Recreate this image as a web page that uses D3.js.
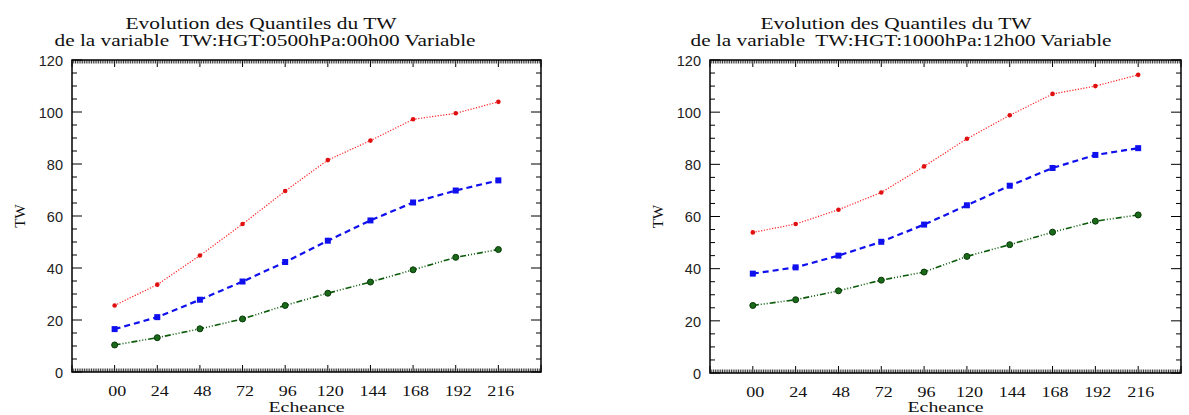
<!DOCTYPE html>
<html><head><meta charset="utf-8">
<script src="https://cdn.jsdelivr.net/npm/d3@7/dist/d3.min.js"></script>
<style>
body{margin:0;background:#fff;}
svg{display:block;}
text{white-space:pre;}
</style></head>
<body>
<svg id="chart" width="1189" height="415"></svg>
<script>
// ---- data ----
const echeances = [0, 24, 48, 72, 96, 120, 144, 168, 192, 216];
const xTickLabels = ["00","24","48","72","96","120","144","168","192","216"];
const yTicks = [0, 20, 40, 60, 80, 100, 120];
const titleLine1 = "Evolution des Quantiles du TW";
const titleLeft2 = "de la variable  TW:HGT:0500hPa:00h00 Variable";
const titleRight2 = "de la variable  TW:HGT:1000hPa:12h00 Variable";
const xLabel = "Echeance";
const yLabel = "TW";

const leftRed   = [25.6, 33.6, 44.8, 56.9, 69.6, 81.5, 89.0, 97.2, 99.5, 103.9];
const leftBlue  = [16.5, 21.1, 27.8, 34.8, 42.3, 50.5, 58.3, 65.2, 69.8, 73.7];
const leftGreen = [10.4, 13.2, 16.6, 20.4, 25.6, 30.3, 34.6, 39.3, 44.1, 47.1];

const rightRed   = [53.9, 57.1, 62.6, 69.2, 79.2, 89.8, 98.8, 107.0, 110.0, 114.3];
const rightBlue  = [38.1, 40.5, 45.0, 50.3, 56.9, 64.3, 71.8, 78.6, 83.6, 86.2];
const rightGreen = [25.9, 28.1, 31.5, 35.6, 38.7, 44.7, 49.2, 54.0, 58.2, 60.6];

// ---- layout ----
const panels = [
  {x0:72, x1:541, y0:60, y1:372, t1x:261, t2x:265, ylx:20, title2:titleLeft2,
   red:leftRed, blue:leftBlue, green:leftGreen},
  {x0:710, x1:1181, y0:60, y1:373, t1x:896, t2x:901, ylx:658, title2:titleRight2,
   red:rightRed, blue:rightBlue, green:rightGreen}
];

const svg = d3.select("#chart");
const serifFont = "'Liberation Serif', 'DejaVu Serif', serif";
const sansFont = "'Liberation Sans', Arial, sans-serif";

panels.forEach(p => {
  const x = d3.scaleLinear().domain([-24, 240]).range([p.x0, p.x1]);
  const y = d3.scaleLinear().domain([0, 120]).range([p.y1, p.y0]);
  const g = svg.append("g");

  // titles
  g.append("text").attr("x", p.t1x).attr("y", 29).attr("text-anchor","middle")
    .attr("font-family", serifFont).attr("font-size", 16.5)
    .attr("textLength", 271).attr("lengthAdjust","spacingAndGlyphs")
    .attr("fill","#111")
    .text(titleLine1);
  g.append("text").attr("x", p.t2x).attr("y", 46).attr("text-anchor","middle")
    .attr("font-family", serifFont).attr("font-size", 16.5)
    .attr("textLength", 421).attr("lengthAdjust","spacingAndGlyphs")
    .attr("fill","#111")
    .text(p.title2);

  const majorX = d3.range(-24, 241, 24);
  const minorX = d3.range(-24, 241, 1).filter(v => (v + 24) % 24 !== 0);
  const minorY = d3.range(0, 121, 5).filter(v => v % 20 !== 0);

  const bottom = d3.axisBottom(x).tickValues(echeances).tickSize(0).tickPadding(0)
    .tickFormat((d,i) => xTickLabels[i]);
  const ax = g.append("g").attr("transform", `translate(0,${p.y1})`).call(bottom);
  ax.select(".domain").remove();
  ax.selectAll("text").attr("font-family", serifFont).attr("font-size", 15.5)
    .attr("fill","#111")
    .attr("dy", null).attr("y", 24).attr("dx", 2)
    .each(function(){ const n = this.textContent.length; d3.select(this).attr("textLength", n*9).attr("lengthAdjust","spacingAndGlyphs"); });

  const left = d3.axisLeft(y).tickValues(yTicks).tickSize(0).tickPadding(9);
  const ay = g.append("g").attr("transform", `translate(${p.x0},0)`).call(left);
  ay.select(".domain").remove();
  ay.selectAll("text").attr("font-family", sansFont).attr("font-size", 14.5)
    .attr("fill","#222").attr("dy","0.36em");

  // tick marks (drawn inward)
  const tk = g.append("g").attr("stroke","#000").attr("stroke-width",1);
  majorX.forEach(v => {
    tk.append("line").attr("x1", x(v)).attr("x2", x(v)).attr("y1", p.y1).attr("y2", p.y1-7);
    tk.append("line").attr("x1", x(v)).attr("x2", x(v)).attr("y1", p.y0).attr("y2", p.y0+7);
  });
  minorX.forEach(v => {
    tk.append("line").attr("x1", x(v)).attr("x2", x(v)).attr("y1", p.y1).attr("y2", p.y1-3.5).attr("stroke-width",0.8);
    tk.append("line").attr("x1", x(v)).attr("x2", x(v)).attr("y1", p.y0).attr("y2", p.y0+3.5).attr("stroke-width",0.8);
  });
  yTicks.forEach(v => {
    tk.append("line").attr("x1", p.x0).attr("x2", p.x0+10).attr("y1", y(v)).attr("y2", y(v));
    tk.append("line").attr("x1", p.x1).attr("x2", p.x1-10).attr("y1", y(v)).attr("y2", y(v));
  });
  minorY.forEach(v => {
    tk.append("line").attr("x1", p.x0).attr("x2", p.x0+5).attr("y1", y(v)).attr("y2", y(v));
    tk.append("line").attr("x1", p.x1).attr("x2", p.x1-5).attr("y1", y(v)).attr("y2", y(v));
  });

  // frame
  g.append("rect").attr("x", p.x0).attr("y", p.y0).attr("width", p.x1-p.x0).attr("height", p.y1-p.y0)
    .attr("fill","none").attr("stroke","#000").attr("stroke-width",1.5);

  // axis titles
  g.append("text").attr("x", (p.x0+p.x1)/2).attr("y", 412).attr("text-anchor","middle")
    .attr("font-family", serifFont).attr("font-size", 14)
    .attr("textLength", 76).attr("lengthAdjust","spacingAndGlyphs")
    .attr("fill","#111")
    .text(xLabel);
  g.append("text").attr("transform", `translate(${p.ylx + 5},${(p.y0+p.y1)/2}) rotate(-90)`)
    .attr("text-anchor","middle").attr("font-family", serifFont).attr("font-size", 15)
    .attr("fill","#111")
    .text(yLabel);

  const line = d3.line().x((d,i) => x(echeances[i])).y(d => y(d));

  // red: dotted
  g.append("path").datum(p.red).attr("d", line).attr("fill","none")
    .attr("stroke","#ff2020").attr("stroke-width",1.2).attr("stroke-dasharray","1.2,1.6");
  g.selectAll(".mr").data(p.red).enter().append("circle")
    .attr("cx",(d,i)=>x(echeances[i])).attr("cy",d=>y(d)).attr("r",2.3).attr("fill","#e01010");

  // blue: dashed
  g.append("path").datum(p.blue).attr("d", line).attr("fill","none")
    .attr("stroke","#1010ee").attr("stroke-width",2.2).attr("stroke-dasharray","6,4");
  g.selectAll(".mb").data(p.blue).enter().append("rect")
    .attr("x",(d,i)=>x(echeances[i])-3).attr("y",d=>y(d)-3).attr("width",6).attr("height",6).attr("fill","#1010ee");

  // green: dash-dot-dot-dot
  g.append("path").datum(p.green).attr("d", line).attr("fill","none")
    .attr("stroke","#0a5a0a").attr("stroke-width",1.6).attr("stroke-dasharray","6,2,1,2,1,2,1,2");
  g.selectAll(".mg").data(p.green).enter().append("circle")
    .attr("cx",(d,i)=>x(echeances[i])).attr("cy",d=>y(d)).attr("r",3)
    .attr("fill","#1a6a1a").attr("stroke","#063806").attr("stroke-width",1);
});
</script>
</body></html>
